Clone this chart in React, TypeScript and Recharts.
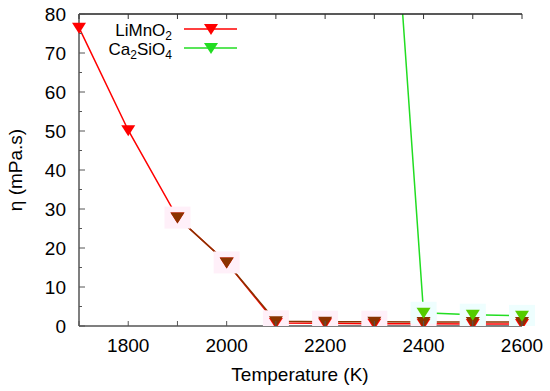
import React from 'react';
import { LineChart, Line, XAxis, YAxis, Legend, Label } from 'recharts';

const temperatures = [1700, 1800, 1900, 2000, 2100, 2200, 2300, 2400, 2500, 2600];
const liMnO2 = [76.5, 50.2, 27.8, 16.3, 0.8, 0.7, 0.6, 0.6, 0.5, 0.5];
const liMnO2Overlay = [null, null, 27.8, 16.3, 1.2, 1.1, 1.1, 1.0, 1.0, 1.0];
const ca2SiO4 = [null, null, null, null, null, null, 184, 3.4, 2.9, 2.6];
const xTicks = [1700, 1800, 1900, 2000, 2100, 2200, 2300, 2400, 2500, 2600];
const xLabelTicks = [1800, 2000, 2200, 2400, 2600];
const yTicks = [0, 5, 10, 15, 20, 25, 30, 35, 40, 45, 50, 55, 60, 65, 70, 75, 80];
const yLabelTicks = [0, 10, 20, 30, 40, 50, 60, 70, 80];

const data = temperatures.map((t, i) => ({
  t,
  li: liMnO2[i],
  liO: liMnO2Overlay[i],
  ca: ca2SiO4[i],
}));

const RED = '#ff0000';
const BROWN = '#8a3300';
const GREEN = '#22dd22';
const GREEN_MARK = '#55cc00';
const FONT = '"Liberation Sans", Arial, sans-serif';

const tri = (color: string) => (props: any) => {
  const { cx, cy, index } = props;
  if (cx == null || cy == null || isNaN(cx) || isNaN(cy)) return <g key={index} />;
  return (
    <g key={index}>
      <polygon points={`${cx - 7},${cy - 5} ${cx + 7},${cy - 5} ${cx},${cy + 6}`} fill={color} />
    </g>
  );
};

const halo = (color: string) => (props: any) => {
  const { cx, cy, index } = props;
  if (cx == null || cy == null || isNaN(cx) || isNaN(cy)) return <g key={index} />;
  return <rect key={index} x={cx - 13} y={cy - 11} width={26} height={22} fill={color} />;
};

const BottomTick = (props: any) => {
  const { x, y, payload } = props;
  const v = payload.value;
  return (
    <g>
      <line x1={x} y1={y} x2={x} y2={y - 5} stroke="#555" strokeWidth={1} />
      {xLabelTicks.includes(v) ? (
        <text x={x} y={y + 26} textAnchor="middle" fontSize={19} fontFamily={FONT} fill="#000">
          {v}
        </text>
      ) : null}
    </g>
  );
};

const TopTick = (props: any) => {
  const { x, y } = props;
  return <line x1={x} y1={y} x2={x} y2={y + 5} stroke="#333" strokeWidth={1} />;
};

const LeftTick = (props: any) => {
  const { x, y, payload } = props;
  const v = payload.value;
  const major = yLabelTicks.includes(v);
  return (
    <g>
      <line x1={x} y1={y} x2={x + (major ? 6 : 3)} y2={y} stroke="#555" strokeWidth={1} />
      {major ? (
        <text x={x - 13} y={y} dy="0.36em" textAnchor="end" fontSize={19} fontFamily={FONT} fill="#000">
          {v}
        </text>
      ) : null}
    </g>
  );
};

const RightTick = (props: any) => {
  const { x, y, payload } = props;
  const major = yLabelTicks.includes(payload.value);
  return <line x1={x} y1={y} x2={x - (major ? 6 : 3)} y2={y} stroke="#333" strokeWidth={1} />;
};

const LegendBox = () => (
  <svg width={200} height={50} style={{ overflow: 'visible', display: 'block' }}>
    <g fontFamily={FONT} fontSize={17}>
      <text x={92} y={22} textAnchor="end" fill="#000">
        LiMnO<tspan dy={4} fontSize={12}>2</tspan>
      </text>
      <line x1={104} y1={15} x2={157} y2={15} stroke={RED} strokeWidth={1.5} />
      <polygon points={`${124},${10} ${138},${10} ${131},${21}`} fill={RED} />
      <text x={92} y={41} textAnchor="end" fill="#000">
        Ca<tspan dy={4} fontSize={12}>2</tspan>
        <tspan dy={-4}>SiO</tspan>
        <tspan dy={4} fontSize={12}>4</tspan>
      </text>
      <line x1={104} y1={34} x2={157} y2={34} stroke={GREEN} strokeWidth={1.5} />
      <polygon points={`${124},${29} ${138},${29} ${131},${40}`} fill={GREEN} />
    </g>
  </svg>
);

export default function App() {
  return (
    <div style={{ position: 'absolute', left: 0, top: 0, background: '#fff' }}>
      <LineChart width={550} height={391} data={data} margin={{ top: 0, right: 28, left: 0, bottom: 0 }}>
        <XAxis
          xAxisId="b"
          dataKey="t"
          type="number"
          domain={[1700, 2600]}
          ticks={xTicks}
          tickSize={0}
          tickMargin={0}
          tick={<BottomTick />}
          height={65}
          axisLine={{ stroke: '#555', strokeWidth: 1.5 }}
          interval={0}
        >
          <Label
            content={() => (
              <text x={300} y={381} textAnchor="middle" fontSize={19} fontFamily={FONT} fill="#000">
                Temperature (K)
              </text>
            )}
          />
        </XAxis>
        <XAxis
          xAxisId="t"
          orientation="top"
          dataKey="t"
          type="number"
          domain={[1700, 2600]}
          ticks={xTicks}
          tickSize={0}
          tickMargin={0}
          tick={<TopTick />}
          height={14}
          axisLine={{ stroke: '#222', strokeWidth: 1.5 }}
          interval={0}
        />
        <YAxis
          yAxisId="l"
          type="number"
          domain={[0, 80]}
          allowDataOverflow
          ticks={yTicks}
          tickSize={0}
          tickMargin={0}
          tick={<LeftTick />}
          width={79}
          axisLine={{ stroke: '#555', strokeWidth: 1.5 }}
          interval={0}
        >
          <Label
            content={() => (
              <text
                x={22}
                y={170}
                transform="rotate(-90 22 170)"
                textAnchor="middle"
                fontSize={19}
                fontFamily={FONT}
                fill="#000"
              >
                η (mPa.s)
              </text>
            )}
          />
        </YAxis>
        <YAxis
          yAxisId="r"
          orientation="right"
          type="number"
          domain={[0, 80]}
          allowDataOverflow
          ticks={yTicks}
          tickSize={0}
          tickMargin={0}
          tick={<RightTick />}
          width={0}
          axisLine={{ stroke: '#111', strokeWidth: 1.5 }}
          interval={0}
        />
        <Legend
          layout="vertical"
          align="center"
          verticalAlign="middle"
          content={<LegendBox />}
          wrapperStyle={{ position: 'absolute', left: 80, top: 14, width: 200, height: 50 }}
        />
        <Line
          xAxisId="b"
          yAxisId="l"
          dataKey="liO"
          legendType="none"
          stroke="none"
          dot={halo('#fff0f9')}
          isAnimationActive={false}
          connectNulls
        />
        <Line
          xAxisId="b"
          yAxisId="l"
          dataKey="ca"
          legendType="none"
          stroke="none"
          dot={halo('#eefefe')}
          isAnimationActive={false}
          connectNulls
        />
        <Line
          xAxisId="b"
          yAxisId="l"
          dataKey="li"
          name="LiMnO2"
          stroke={RED}
          strokeWidth={1.5}
          dot={tri(RED)}
          isAnimationActive={false}
          connectNulls
        />
        <Line
          xAxisId="b"
          yAxisId="l"
          dataKey="liO"
          legendType="none"
          stroke={BROWN}
          strokeWidth={1.5}
          dot={tri(BROWN)}
          isAnimationActive={false}
          connectNulls
        />
        <Line
          xAxisId="b"
          yAxisId="l"
          dataKey="ca"
          name="Ca2SiO4"
          stroke={GREEN}
          strokeWidth={1.5}
          dot={tri(GREEN_MARK)}
          isAnimationActive={false}
          connectNulls
        />
      </LineChart>
    </div>
  );
}
